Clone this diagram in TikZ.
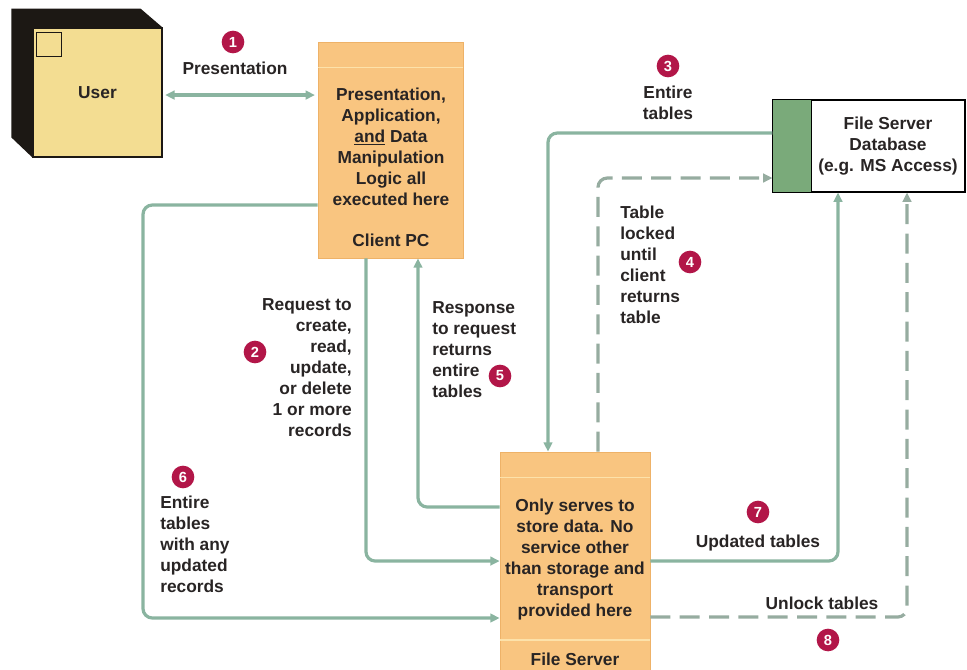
\documentclass[tikz,border=0pt]{standalone}
\usepackage{fontspec}
\setmainfont{Liberation Sans}
\usetikzlibrary{arrows.meta,calc}

\definecolor{boxorange}{RGB}{249,197,128}
\definecolor{boxedge}{RGB}{238,178,104}
\definecolor{bandline}{RGB}{253,226,170}
\definecolor{flowgreen}{RGB}{138,180,160}
\definecolor{lockgrey}{RGB}{150,172,160}
\definecolor{badgered}{RGB}{178,22,72}
\definecolor{userface}{RGB}{243,221,146}
\definecolor{cubeback}{RGB}{28,24,20}
\definecolor{dbgreen}{RGB}{122,170,122}
\definecolor{inktext}{RGB}{40,36,36}

\begin{document}
\begin{tikzpicture}[x=0.75pt,y=-0.75pt,>={Triangle[length=7pt,width=6.5pt]},
  txt/.style={font=\fontsize{13}{15.75}\selectfont\bfseries,inner sep=0pt,text=inktext},
  badge/.style={circle,fill=badgered,text=white,inner sep=0pt,minimum size=17pt,
    font=\fontsize{11}{11}\selectfont\bfseries},
  flow/.style={draw=flowgreen,line width=2.4pt,rounded corners=7pt},
  lockflow/.style={flow,draw=lockgrey,dash pattern=on 15pt off 7pt},
  tierbox/.style={fill=boxorange,draw=boxedge,line width=0.6pt,inner sep=0pt},
  band/.style={draw=bandline,line width=1.2pt}]
  \useasboundingbox (0,0) rectangle (967,669);

  % user cube
  \node[fill=userface,draw=cubeback,line width=0.8pt,minimum width=96.75pt,minimum height=96.75pt,
    txt] (user) at (97.5,92.5) {User};
  \fill[cubeback] (user.south west) -- ++(-21,-20) -- ++(0,-129) -- ++(129,0)
    -- (user.north east) -- (user.north west) -- cycle;
  \draw[cubeback,line width=0.6pt] ([shift={(4,5)}]user.north west) rectangle ++(25,24);

  % client tier
  \node[tierbox,minimum width=108.75pt,minimum height=162pt] (client) at (390.5,150) {};
  \draw[band] ([yshift=-19.5pt]client.north west) -- ([yshift=-19.5pt]client.north east);
  \node[txt,align=center] (clienttxt) at (391,147)
    {Presentation,\\Application,\\\underline{and} Data\\Manipulation\\Logic all\\executed here};
  \node[txt] (clientname) at (391,240) {Client PC};

  % file server tier
  \node[tierbox,minimum width=112.5pt,minimum height=174.75pt] (filesrv) at (575,568.5) {};
  \draw[band] ([yshift=-19.5pt]filesrv.north west) -- ([yshift=-19.5pt]filesrv.north east);
  \draw[band] (filesrv.west |- 0,640) -- (filesrv.east |- 0,640);
  \node[txt,align=center] (srvtxt) at (575,560)
    {Only serves to\\store data. No\\service other\\than storage and\\transport\\provided here};
  \node[txt] (srvname) at (575,659) {File Server};

  % database
  \node[draw=black,fill=white,line width=0.8pt,minimum width=144pt,minimum height=69pt] (db) at (869,146) {};
  \fill[dbgreen] (db.north west) rectangle ([xshift=29.25pt]db.south west);
  \draw[line width=0.8pt] (db.north west) rectangle (db.south east);
  \draw[line width=0.8pt] ([xshift=29.25pt]db.north west) -- ([xshift=29.25pt]db.south west);
  \node[txt,align=center] (dbtxt) at (888,146) {File Server\\Database\\(e.g. MS Access)};

  % connectors
  \coordinate (bend6) at (143,618);
  \draw[flow,<->,shorten <=2pt,shorten >=2pt] ([yshift=-1.9pt]user.east) -- ([yshift=-1.9pt]user.east -| client.west);
  \draw[flow,->] ([xshift=-18.4pt]client.south) |- ([yshift=5.6pt]filesrv.west);
  \draw[flow,->] ([yshift=46.1pt]filesrv.west) -| ([xshift=20.6pt]client.south);
  \draw[flow,->] ([yshift=-41.25pt]client.west) -| (bend6) -- (bend6 -| filesrv.west);
  \draw[flow,->] ([yshift=9.75pt]db.west) -| ([xshift=-20.25pt]filesrv.north);
  \draw[lockflow,->] ([xshift=17.25pt]filesrv.north) |- ([yshift=-24pt]db.west);
  \draw[flow,->] ([yshift=5.6pt]filesrv.east) -| ([xshift=-23.25pt]db.south);
  \draw[lockflow,->] ([yshift=-36.4pt]filesrv.east) -| ([xshift=28.5pt]db.south);

  % labels and step badges
  \node[badge] (n1) at (233,42) {1};
  \node[txt] (lab1) at (235,68) {Presentation};
  \node[badge] (n2) at (255,352) {2};
  \node[txt,align=right,anchor=north east] (lab2) at (352,298)
    {Request to\\create,\\read,\\update,\\or delete\\1 or more\\records};
  \node[badge] (n3) at (668,66) {3};
  \node[txt,align=center] (lab3) at (668,103) {Entire\\tables};
  \node[badge] (n4) at (690,262) {4};
  \node[txt,align=left,anchor=north west] (lab4) at (620,206)
    {Table\\locked\\until\\client\\returns\\table};
  \node[badge] (n5) at (500,376) {5};
  \node[txt,align=left,anchor=north west] (lab5) at (432,301)
    {Response\\to request\\returns\\entire\\tables};
  \node[badge] (n6) at (183,477) {6};
  \node[txt,align=left,anchor=north west] (lab6) at (160,496)
    {Entire\\tables\\with any\\updated\\records};
  \node[badge] (n7) at (758,512) {7};
  \node[txt] (lab7) at (758,543) {Updated tables};
  \node[badge] (n8) at (828,640) {8};
  \node[txt] (lab8) at (822,603) {Unlock tables};
\end{tikzpicture}
\end{document}
